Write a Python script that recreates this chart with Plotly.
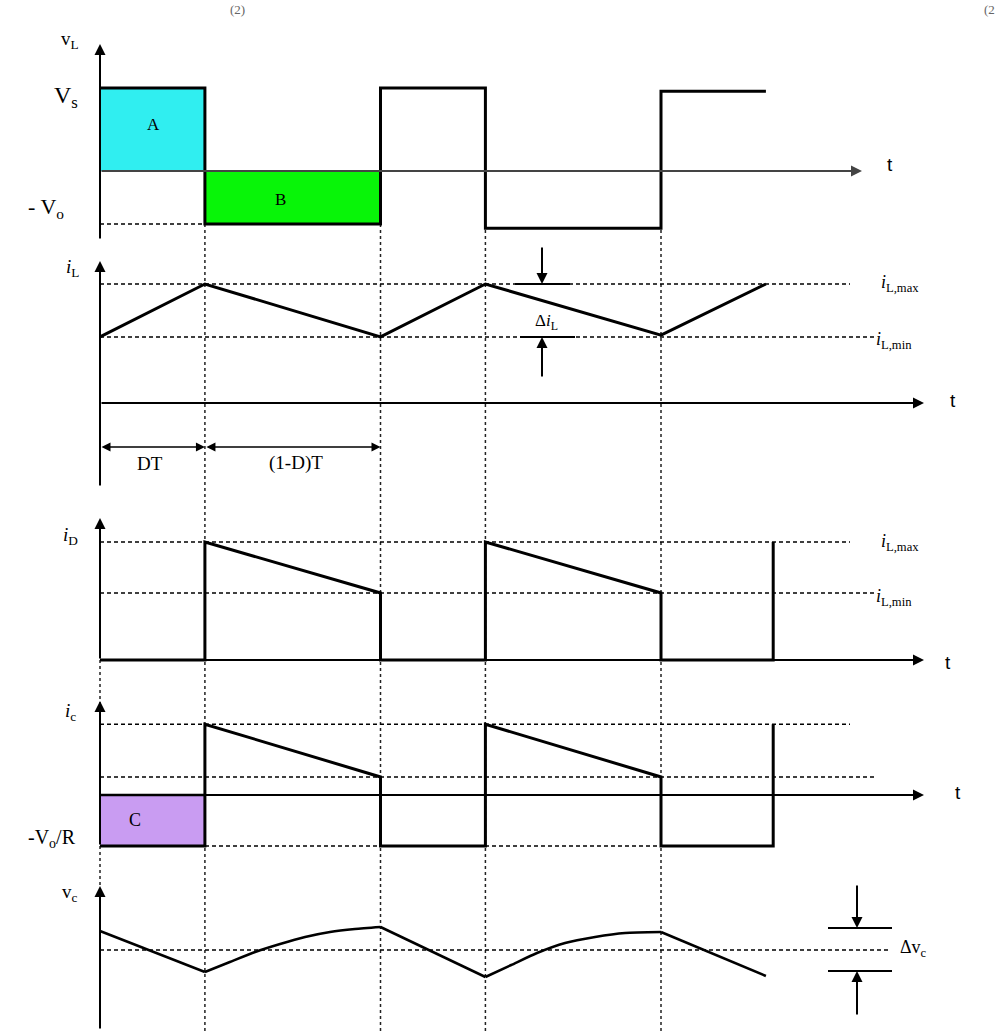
import plotly.graph_objects as go

W, H = 999, 1031
SERIF = "Liberation Serif"
SANS = "Liberation Sans"

# ---------------- data (logical units; T = 1 period) ----------------
D = 0.374                      # duty ratio
switch_t = [D, 1, 1 + D, 2]    # switching instants (vertical guide lines)

# v_L (inductor voltage), Vs = 1
vL_t = [0, D, D, 1, 1, 1 + D, 1 + D, 2, 2, 2 + D]
vL_v = [1, 1, -0.64, -0.64, 1, 1, -0.69, -0.69, 0.96, 0.96]
VS, VO_NEG = 1.0, -0.64

# i_L (inductor current)
iL_t = [0, D, 1, 1 + D, 2, 2 + D]
iL_v = [0.555, 1.0, 0.555, 1.0, 0.57, 1.0]
IL_MAX, IL_MIN = 1.0, 0.555

# i_D (diode current)
iD_t = [0, D, D, 1, 1, 1 + D, 1 + D, 2, 2, 2.4, 2.4]
iD_v = [0, 0, 1.0, 0.568, 0, 0, 1.0, 0.568, 0, 0, 1.0]
ID_MAX, ID_MIN = 1.0, 0.568

# i_C (capacitor current)
iC_t = [0, D, D, 1, 1, 1 + D, 1 + D, 2, 2, 2.4, 2.4]
iC_v = [-0.432, -0.432, 0.60, 0.153, -0.432, -0.432, 0.60, 0.153, -0.432, -0.432, 0.60]
IC_MAX, IC_MIN, IC_NEG = 0.60, 0.153, -0.432

# v_c (capacitor voltage ripple around average = 0)
vc_lin1_t = [0, D]
vc_lin1_v = [0.19, -0.22]
vc_cur1_t = [0.374, 0.463, 0.553, 0.642, 0.731, 0.820, 0.909, 1.0]
vc_cur1_v = [-0.22, -0.12, -0.02, 0.06, 0.13, 0.18, 0.21, 0.23]
vc_lin2_t = [1.0, 1 + D]
vc_lin2_v = [0.23, -0.27]
vc_cur2_t = [1.374, 1.466, 1.558, 1.658, 1.765, 1.872, 2.0]
vc_cur2_v = [-0.27, -0.15, -0.03, 0.07, 0.13, 0.17, 0.18]
vc_lin3_t = [2.0, 2 + D]
vc_lin3_v = [0.18, -0.26]
VC_AVG, VC_HI, VC_LO = 0.0, 0.22, -0.21

# ---------------- layout helpers ----------------
T_PX0, T_SCALE = 100, 280.5
panels = {
    1: dict(zero=171, scale=83, top=28, bot=245),
    2: dict(zero=403, scale=119, top=245, bot=500),
    3: dict(zero=660, scale=118, top=500, bot=690),
    4: dict(zero=795, scale=118, top=690, bot=870),
    5: dict(zero=950, scale=100, top=870, bot=1031),
}


def yn(p):
    return "y" if p == 1 else f"y{p}"


def tpx(px):
    return (px - T_PX0) / T_SCALE


def vpx(p, px):
    return (panels[p]["zero"] - px) / panels[p]["scale"]


fig = go.Figure()


def line(p, t, v, width=3, dash=None, color="black", shape="linear", fill=None, fillcolor=None,
         smoothing=None):
    ld = dict(width=width, dash=dash, color=color, shape=shape)
    if smoothing is not None:
        ld["smoothing"] = smoothing
    fig.add_trace(go.Scatter(
        x=t, y=v, mode="lines", xaxis="x", yaxis=yn(p), line=ld,
        fill=fill, fillcolor=fillcolor, hoverinfo="skip", showlegend=False))


def arrow(p, t0, v0, t1, v1, width=2, head=2, size=1.0, both=False, color="black"):
    fig.add_annotation(
        x=t1, y=v1, ax=t0, ay=v0, xref="x", yref=yn(p), axref="x", ayref=yn(p),
        text="", showarrow=True, arrowhead=head, arrowsize=size, arrowwidth=width,
        arrowcolor=color, standoff=0, startstandoff=0,
        arrowside="end+start" if both else "end",
        startarrowhead=head, startarrowsize=size)


def label(p, xpx, ypx, text, size=18, family=SERIF, xanchor="center"):
    fig.add_annotation(
        x=tpx(xpx), y=vpx(p, ypx), xref="x", yref=yn(p), text=text, showarrow=False,
        font=dict(family=family, size=size, color="black"), xanchor=xanchor, yanchor="middle")


DASH = "4px,3px"

# vertical guide lines at switching instants
for ts in switch_t:
    fig.add_shape(type="line", xref="x", yref="paper", x0=ts, x1=ts,
                  y0=1 - 224 / H, y1=0, layer="below",
                  line=dict(color="#222", width=1.5, dash="3px,3px"))
# dotted continuation of the vertical axis between panels
for a, b in [(660, 703), (846, 888)]:
    fig.add_shape(type="line", xref="x", yref="paper", x0=0, x1=0,
                  y0=1 - a / H, y1=1 - b / H, layer="below",
                  line=dict(color="#222", width=1.5, dash="3px,3px"))

# ---------------- panel 1: v_L ----------------
line(1, [0, D, D, 0, 0], [VS, VS, 0, 0, VS], width=0, fill="toself", fillcolor="#30EEF0")
line(1, [D, 1, 1, D, D], [0, 0, VO_NEG, VO_NEG, 0], width=0, fill="toself", fillcolor="#08F508")
line(1, [0, D], [VO_NEG, VO_NEG], width=1.5, dash=DASH)
arrow(1, 0, 0, tpx(862), 0, width=2, color="#444", size=1.1)
arrow(1, 0, vpx(1, 240), 0, vpx(1, 44), width=2, size=1.1)
line(1, vL_t, vL_v, width=3)
label(1, 70, 40, "v<sub>L</sub>", 19)
label(1, 66, 97, "V<sub>s</sub>", 24)
label(1, 46, 208, "- V<sub>o</sub>", 22)
label(1, 153, 125, "A", 17)
label(1, 280, 200, "B", 17)
label(1, 890, 165, "t", 19, SANS)

# ---------------- panel 2: i_L ----------------
line(2, [0, tpx(850)], [IL_MAX, IL_MAX], width=1.5, dash=DASH)
line(2, [0, tpx(875)], [IL_MIN, IL_MIN], width=1.5, dash=DASH)
arrow(2, 0, 0, tpx(924), 0, width=2, size=1.1)
arrow(2, 0, vpx(2, 487), 0, vpx(2, 261), width=2, size=1.1)
line(2, iL_t, iL_v, width=3)
# delta i_L indicator
line(2, [tpx(515), tpx(570)], [IL_MAX, IL_MAX], width=2)
line(2, [tpx(520), tpx(575)], [IL_MIN, IL_MIN], width=2)
arrow(2, tpx(542), vpx(2, 246), tpx(542), IL_MAX, width=2, size=1.1)
arrow(2, tpx(542), vpx(2, 378), tpx(542), IL_MIN, width=2, size=1.1)
label(2, 546, 322, "Δ<i>i</i><sub>L</sub>", 17)
# DT / (1-D)T dimension arrows
arrow(2, 0, vpx(2, 447), D, vpx(2, 447), width=1.5, size=1.2, both=True)
arrow(2, D, vpx(2, 447), 1, vpx(2, 447), width=1.5, size=1.2, both=True)
label(2, 150, 463, "DT", 19)
label(2, 296, 463, "(1-D)T", 19)
label(2, 72, 268, "<i>i</i><sub>L</sub>", 19)
label(2, 879, 283, "<i>i</i><sub>L,max</sub>", 18, xanchor="left")
label(2, 874, 340, "<i>i</i><sub>L,min</sub>", 18, xanchor="left")
label(2, 953, 400, "t", 19, SANS)

# ---------------- panel 3: i_D ----------------
line(3, [0, tpx(850)], [ID_MAX, ID_MAX], width=1.5, dash=DASH)
line(3, [0, tpx(875)], [ID_MIN, ID_MIN], width=1.5, dash=DASH)
arrow(3, 0, 0, tpx(924), 0, width=2, size=1.1)
arrow(3, 0, 0, 0, vpx(3, 518), width=2, size=1.1)
line(3, iD_t, iD_v, width=3)
label(3, 70, 536, "<i>i</i><sub>D</sub>", 19)
label(3, 879, 542, "<i>i</i><sub>L,max</sub>", 18, xanchor="left")
label(3, 874, 597, "<i>i</i><sub>L,min</sub>", 18, xanchor="left")
label(3, 948, 662, "t", 19, SANS)

# ---------------- panel 4: i_C ----------------
line(4, [0, D, D, 0, 0], [0, 0, IC_NEG, IC_NEG, 0], width=0, fill="toself", fillcolor="#C99CF2")
line(4, [0, tpx(850)], [IC_MAX, IC_MAX], width=1.5, dash=DASH)
line(4, [0, tpx(875)], [IC_MIN, IC_MIN], width=1.5, dash=DASH)
line(4, [0, 2.4], [IC_NEG, IC_NEG], width=1.5, dash=DASH)
line(4, [0, D], [0, 0], width=2.5)
arrow(4, 0, 0, tpx(924), 0, width=2, size=1.1)
arrow(4, 0, IC_NEG, 0, vpx(4, 701), width=2, size=1.1)
line(4, iC_t, iC_v, width=3)
label(4, 70, 712, "<i>i</i><sub>c</sub>", 19)
label(4, 52, 838, "-V<sub>o</sub>/R", 20)
label(4, 135, 820, "C", 18)
label(4, 958, 792, "t", 19, SANS)

# ---------------- panel 5: v_c ----------------
line(5, [0, tpx(890)], [VC_AVG, VC_AVG], width=1.5, dash=DASH)
arrow(5, 0, vpx(5, 1030), 0, vpx(5, 886), width=2, size=1.1)
line(5, vc_lin1_t, vc_lin1_v, width=2.5)
line(5, vc_cur1_t, vc_cur1_v, width=2.5, shape="spline", smoothing=0.6)
line(5, vc_lin2_t, vc_lin2_v, width=2.5)
line(5, vc_cur2_t, vc_cur2_v, width=2.5, shape="spline", smoothing=0.6)
line(5, vc_lin3_t, vc_lin3_v, width=2.5)
# delta v_c indicator
line(5, [tpx(828), tpx(892)], [VC_HI, VC_HI], width=2)
line(5, [tpx(828), tpx(892)], [VC_LO, VC_LO], width=2)
arrow(5, tpx(857), vpx(5, 884), tpx(857), VC_HI, width=2, size=1.1)
arrow(5, tpx(857), vpx(5, 1016), tpx(857), VC_LO, width=2, size=1.1)
label(5, 70, 893, "v<sub>c</sub>", 19)
label(5, 898, 948, "Δv<sub>c</sub>", 18, xanchor="left")

# caption fragments at the very top (cropped in the source)
fig.add_annotation(x=tpx(237), y=1.0, xref="x", yref="paper", text="(2)", showarrow=False,
                   font=dict(family=SERIF, size=13, color="#666"), yanchor="top")
fig.add_annotation(x=tpx(997), y=1.0, xref="x", yref="paper", text="(2", showarrow=False,
                   font=dict(family=SERIF, size=13, color="#666"), xanchor="right", yanchor="top")

layout_axes = {}
for p, cfg in panels.items():
    key = "yaxis" if p == 1 else f"yaxis{p}"
    layout_axes[key] = dict(domain=[1 - cfg["bot"] / H, 1 - cfg["top"] / H],
                            range=[vpx(p, cfg["bot"]), vpx(p, cfg["top"])],
                            visible=False, anchor="x", fixedrange=True)

fig.update_layout(
    width=W, height=H, margin=dict(l=0, r=0, t=0, b=0),
    paper_bgcolor="white", plot_bgcolor="white",
    xaxis=dict(range=[tpx(0), tpx(W)], domain=[0, 1], visible=False, fixedrange=True),
    **layout_axes,
)

fig.write_html("out.html", config={"displayModeBar": False},
               post_script="document.body.style.margin='0';document.body.style.overflow='hidden';")
